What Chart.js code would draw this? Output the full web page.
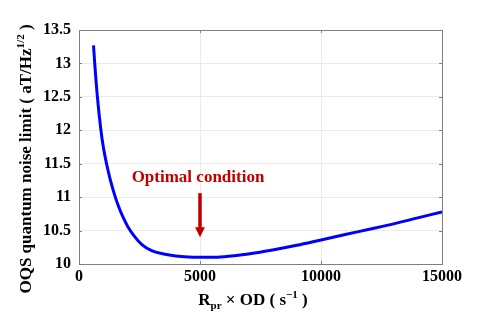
<!DOCTYPE html>
<html>
<head>
<meta charset="utf-8">
<script src="https://cdn.jsdelivr.net/npm/chart.js@4.4.0/dist/chart.umd.min.js"></script>
<style>
  html, body { margin: 0; padding: 0; background: #fff; }
  #wrap { width: 485px; height: 333px; position: relative; }
</style>
</head>
<body>
<div id="wrap"><canvas id="chart"></canvas></div>
<script>
// ─── DATA ────────────────────────────────────────────────────────────────────
const RATE = [600, 650, 760, 900, 1000, 1150, 1300, 1500, 1700, 1900, 2000, 2300, 2600,
              3000, 3500, 4000, 4500, 5000, 5500, 6000, 7000, 8000, 9000, 10000,
              11000, 12000, 13000, 14000, 15000];
const NOISE = [13.27, 13.0, 12.5, 12.02, 11.76, 11.48, 11.25, 11.0, 10.8, 10.64, 10.57, 10.41, 10.29,
               10.2, 10.15, 10.12, 10.105, 10.1, 10.1, 10.11, 10.15, 10.21, 10.28, 10.36,
               10.44, 10.52, 10.6, 10.69, 10.78];

const X_MIN = 0, X_MAX = 15000, X_STEP = 5000;
const Y_MIN = 10, Y_MAX = 13.5, Y_STEP = 0.5;

// annotation, in data units
const OPT_X = 5000;
const OPT_LABEL = 'Optimal condition';
const OPT_LABEL_Y = 11.23;
const ARROW_FROM = 11.06;
const ARROW_TO = 10.40;

// ─── STYLE ───────────────────────────────────────────────────────────────────
const SERIF = "'Liberation Serif', 'Times New Roman', serif";
const GRID_COLOR = '#ebebeb';
const FRAME_COLOR = '#808080';
const DARK_RED = '#c00000';

// draws text made of normal / sub / sup pieces, centred on x
function drawRich(ctx, parts, x, y, size) {
  const small = Math.round(size * 0.62);
  const fontOf = p => `bold ${p.sub || p.sup ? small : size}px ${SERIF}`;
  let total = 0;
  parts.forEach(p => { ctx.font = fontOf(p); total += ctx.measureText(p.t).width; });
  let cx = x - total / 2;
  ctx.textAlign = 'left';
  ctx.textBaseline = 'alphabetic';
  parts.forEach(p => {
    ctx.font = fontOf(p);
    const dy = p.sub ? size * 0.25 : (p.sup ? -size * 0.42 : 0);
    ctx.fillText(p.t, cx, y + dy);
    cx += ctx.measureText(p.t).width;
  });
}

// ─── FRAME, INNER TICKS, TITLES, ARROW ───────────────────────────────────────
const decorPlugin = {
  id: 'decor',
  beforeDatasetsDraw(chart) {
    const { ctx, chartArea: a, scales } = chart;
    ctx.save();
    ctx.strokeStyle = FRAME_COLOR;
    ctx.lineWidth = 1;
    ctx.strokeRect(a.left + 0.5, a.top + 0.5, a.right - a.left, a.bottom - a.top);
    ctx.beginPath();
    scales.x.ticks.forEach(t => {
      const px = Math.round(scales.x.getPixelForValue(t.value)) + 0.5;
      ctx.moveTo(px, a.bottom); ctx.lineTo(px, a.bottom - 3);
      ctx.moveTo(px, a.top); ctx.lineTo(px, a.top + 3);
    });
    scales.y.ticks.forEach(t => {
      const py = Math.round(scales.y.getPixelForValue(t.value)) + 0.5;
      ctx.moveTo(a.left, py); ctx.lineTo(a.left + 3, py);
      ctx.moveTo(a.right, py); ctx.lineTo(a.right - 3, py);
    });
    ctx.stroke();
    ctx.restore();
  },
  afterDraw(chart) {
    const { ctx, scales } = chart;
    const x = scales.x, y = scales.y;
    ctx.save();
    ctx.fillStyle = '#000';

    // x title
    drawRich(ctx, [
      { t: 'R' }, { t: 'pr', sub: true }, { t: ' \u00d7 OD ( s' }, { t: '\u22121', sup: true }, { t: ' )' }
    ], 253, 305, 17);

    // y title
    ctx.save();
    ctx.translate(31, 159);
    ctx.rotate(-Math.PI / 2);
    drawRich(ctx, [
      { t: 'OQS quantum noise limit ( aT/Hz' }, { t: '1/2', sup: true }, { t: ' )' }
    ], 0, 0, 17);
    ctx.restore();

    // annotation
    const ax = x.getPixelForValue(OPT_X);
    const top = y.getPixelForValue(ARROW_FROM);
    const tip = y.getPixelForValue(ARROW_TO);
    ctx.fillStyle = DARK_RED;
    ctx.font = `bold 17px ${SERIF}`;
    ctx.textAlign = 'center';
    ctx.textBaseline = 'alphabetic';
    ctx.fillText(OPT_LABEL, ax - 2, y.getPixelForValue(OPT_LABEL_Y));
    ctx.fillRect(ax - 1.75, top, 3.5, tip - top - 8);
    ctx.beginPath();
    ctx.moveTo(ax - 5, tip - 10);
    ctx.lineTo(ax + 5, tip - 10);
    ctx.lineTo(ax, tip);
    ctx.closePath();
    ctx.fill();
    ctx.restore();
  }
};

// ─── CHART ───────────────────────────────────────────────────────────────────
const tickFont = { family: SERIF, size: 16, weight: 'bold' };

new Chart(document.getElementById('chart').getContext('2d'), {
  type: 'scatter',
  data: {
    datasets: [{
      data: RATE.map((r, i) => ({ x: r, y: NOISE[i] })),
      showLine: true,
      borderColor: '#0000ff',
      borderWidth: 3,
      pointRadius: 0,
      cubicInterpolationMode: 'monotone',
      fill: false,
    }]
  },
  options: {
    responsive: true,
    maintainAspectRatio: false,
    animation: false,
    devicePixelRatio: 1,
    layout: { padding: { top: 30, right: 43, left: 0, bottom: 0 } },
    plugins: {
      legend: { display: false },
      tooltip: { enabled: false },
    },
    scales: {
      x: {
        type: 'linear',
        min: X_MIN,
        max: X_MAX,
        grid: { color: GRID_COLOR, drawTicks: false },
        border: { display: false },
        ticks: { stepSize: X_STEP, color: '#000', font: tickFont, padding: 3, maxRotation: 0,
                 callback: v => String(v) },
        afterFit: s => { s.height = 69; },
      },
      y: {
        min: Y_MIN,
        max: Y_MAX,
        grid: { color: GRID_COLOR, drawTicks: false },
        border: { display: false },
        ticks: { stepSize: Y_STEP, color: '#000', font: tickFont, padding: 8,
                 callback: v => String(v) },
        afterFit: s => { s.width = 79; },
      }
    }
  },
  plugins: [decorPlugin]
});
</script>
</body>
</html>
